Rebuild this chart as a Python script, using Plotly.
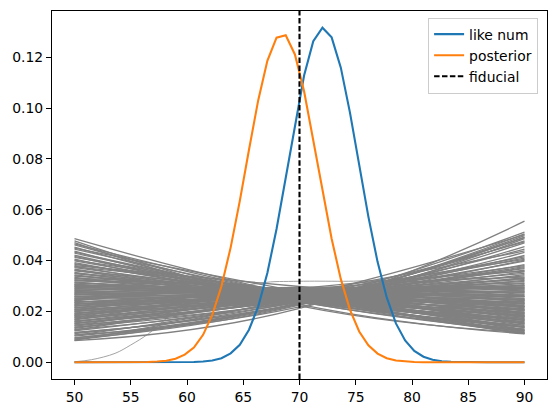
import plotly.graph_objects as go

# ---------------- data ----------------
theta = [50.000, 50.816, 51.633, 52.449, 53.265, 54.082, 54.898, 55.714, 56.531, 57.347,
         58.163, 58.980, 59.796, 60.612, 61.429, 62.245, 63.061, 63.878, 64.694, 65.510,
         66.327, 67.143, 67.959, 68.776, 69.592, 70.408, 71.224, 72.041, 72.857, 73.673,
         74.490, 75.306, 76.122, 76.939, 77.755, 78.571, 79.388, 80.204, 81.020, 81.837,
         82.653, 83.469, 84.286, 85.102, 85.918, 86.735, 87.551, 88.367, 89.184, 90.000]

like_num = [0, 0, 0, 0, 0, 0, 0, 0, 0, 0,
            0, 0, 0.0000, 0.0001, 0.0003, 0.0007, 0.0016, 0.0035, 0.0069, 0.0128,
            0.0219, 0.0351, 0.0524, 0.0727, 0.0938, 0.1128, 0.1263, 0.1316, 0.1278, 0.1159,
            0.0981, 0.0776, 0.0573, 0.0395, 0.0255, 0.0153, 0.0086, 0.0045, 0.0022, 0.0010,
            0.0004, 0.0002, 0.0001, 0, 0, 0, 0, 0, 0, 0]

posterior = [0, 0, 0, 0, 0, 0, 0, 0, 0.0001, 0.0003,
             0.0006, 0.0014, 0.0030, 0.0058, 0.0108, 0.0186, 0.0299, 0.0451, 0.0635, 0.0836,
             0.1030, 0.1186, 0.1277, 0.1286, 0.1211, 0.1066, 0.0877, 0.0675, 0.0486, 0.0327,
             0.0206, 0.0121, 0.0067, 0.0034, 0.0016, 0.0007, 0.0003, 0.0001, 0, 0,
             0, 0, 0, 0, 0, 0, 0, 0, 0, 0]

fiducial = 70

# individual gray curves, read at theta = 50, 70, 90
gray_x = [50, 70, 90]
gray_left = [0.0085, 0.0088, 0.0092, 0.0097, 0.0103, 0.0108, 0.0113, 0.0118, 0.0124, 0.0129,
             0.0133, 0.0138, 0.0142, 0.0147, 0.0151, 0.0155, 0.0159, 0.0163, 0.0167, 0.0171,
             0.0175, 0.0179, 0.0183, 0.0187, 0.0190, 0.0194, 0.0198, 0.0202, 0.0205, 0.0209,
             0.0213, 0.0216, 0.0220, 0.0224, 0.0227, 0.0231, 0.0235, 0.0238, 0.0242, 0.0246,
             0.0249, 0.0253, 0.0257, 0.0260, 0.0264, 0.0268, 0.0271, 0.0275, 0.0279, 0.0283,
             0.0287, 0.0291, 0.0295, 0.0299, 0.0303, 0.0307, 0.0311, 0.0316, 0.0320, 0.0325,
             0.0329, 0.0334, 0.0339, 0.0344, 0.0349, 0.0354, 0.0360, 0.0366, 0.0372, 0.0378,
             0.0385, 0.0392, 0.0399, 0.0406, 0.0413, 0.0421, 0.0429, 0.0437, 0.0445, 0.0453,
             0.0462, 0.0471, 0.0478, 0.0486, 0.0380,
             0.0087, 0.0095, 0.0106, 0.0116, 0.0127, 0.0136, 0.0145, 0.0153, 0.0161, 0.0169,
             0.0177, 0.0185, 0.0192, 0.0200, 0.0207, 0.0214, 0.0222, 0.0229, 0.0236, 0.0244,
             0.0251, 0.0258, 0.0266, 0.0273, 0.0281, 0.0289, 0.0297, 0.0305, 0.0313, 0.0322,
             0.0331, 0.0341, 0.0351, 0.0363, 0.0375, 0.0388, 0.0402, 0.0417, 0.0433, 0.0449,
             0.0466]
gray_mid = [0.0212, 0.0235, 0.0225, 0.0228, 0.0232, 0.0218, 0.0240, 0.0230, 0.0245, 0.0236,
            0.0258, 0.0240, 0.0250, 0.0238, 0.0262, 0.0245, 0.0255, 0.0244, 0.0268, 0.0250,
            0.0258, 0.0246, 0.0272, 0.0252, 0.0262, 0.0248, 0.0278, 0.0255, 0.0265, 0.0250,
            0.0282, 0.0258, 0.0268, 0.0252, 0.0286, 0.0260, 0.0270, 0.0254, 0.0290, 0.0262,
            0.0272, 0.0256, 0.0288, 0.0262, 0.0274, 0.0254, 0.0284, 0.0260, 0.0270, 0.0252,
            0.0280, 0.0258, 0.0266, 0.0250, 0.0276, 0.0256, 0.0264, 0.0248, 0.0274, 0.0254,
            0.0262, 0.0247, 0.0272, 0.0252, 0.0260, 0.0245, 0.0270, 0.0250, 0.0258, 0.0243,
            0.0268, 0.0248, 0.0256, 0.0240, 0.0265, 0.0245, 0.0255, 0.0238, 0.0262, 0.0240,
            0.0250, 0.0222, 0.0228, 0.0262, 0.0298,
            0.0258, 0.0232, 0.0252, 0.0231, 0.0270, 0.0253, 0.0270, 0.0247, 0.0264, 0.0290,
            0.0286, 0.0257, 0.0272, 0.0248, 0.0283, 0.0264, 0.0279, 0.0255, 0.0270, 0.0295,
            0.0290, 0.0260, 0.0275, 0.0250, 0.0284, 0.0264, 0.0278, 0.0253, 0.0267, 0.0285,
            0.0280, 0.0255, 0.0269, 0.0244, 0.0277, 0.0256, 0.0269, 0.0242, 0.0255, 0.0278,
            0.0261]
gray_right = [0.0555, 0.0512, 0.0505, 0.0498, 0.0492, 0.0486, 0.0478, 0.0470, 0.0445, 0.0432,
              0.0415, 0.0420, 0.0398, 0.0402, 0.0380, 0.0384, 0.0368, 0.0372, 0.0350, 0.0356,
              0.0340, 0.0345, 0.0325, 0.0330, 0.0318, 0.0322, 0.0300, 0.0310, 0.0296, 0.0302,
              0.0285, 0.0292, 0.0280, 0.0284, 0.0268, 0.0276, 0.0262, 0.0268, 0.0250, 0.0258,
              0.0246, 0.0252, 0.0236, 0.0244, 0.0232, 0.0238, 0.0222, 0.0231, 0.0219, 0.0225,
              0.0208, 0.0217, 0.0206, 0.0211, 0.0196, 0.0204, 0.0193, 0.0198, 0.0183, 0.0191,
              0.0180, 0.0186, 0.0171, 0.0179, 0.0168, 0.0173, 0.0158, 0.0165, 0.0154, 0.0160,
              0.0145, 0.0152, 0.0140, 0.0146, 0.0130, 0.0137, 0.0125, 0.0130, 0.0118, 0.0124,
              0.0115, 0.0117, 0.0112, 0.0113, 0.0220,
              0.0502, 0.0490, 0.0474, 0.0455, 0.0438, 0.0410, 0.0405, 0.0376, 0.0362, 0.0358,
              0.0335, 0.0332, 0.0312, 0.0305, 0.0290, 0.0295, 0.0274, 0.0278, 0.0258, 0.0260,
              0.0242, 0.0247, 0.0228, 0.0233, 0.0214, 0.0219, 0.0202, 0.0206, 0.0189, 0.0194,
              0.0176, 0.0182, 0.0164, 0.0168, 0.0150, 0.0155, 0.0136, 0.0140, 0.0121, 0.0126,
              0.0114]

# one gray curve that starts at zero on the left
edge_x = [50, 51.5, 53.6, 55.0, 56.6, 58.9, 60.5, 62.5, 64.9, 67.4, 69.0, 70.9, 74.8, 76.3, 80, 85, 90]
edge_y = [0.0002, 0.0010, 0.0035, 0.0068, 0.0113, 0.0198, 0.0234, 0.0272, 0.0299, 0.0316,
          0.0318, 0.0319, 0.0319, 0.0322, 0.0318, 0.0305, 0.0288]

# ---------------- figure ----------------
BLUE = "#1f77b4"
ORANGE = "#ff7f0e"
GRAY = "#808080"

fig = go.Figure()

gx, gy = [], []
for lv, mv, rv in zip(gray_left, gray_mid, gray_right):
    gx += gray_x + [None]
    gy += [lv, mv, rv, None]
fig.add_trace(go.Scatter(x=gx, y=gy, mode="lines",
                         line=dict(color=GRAY, width=1.3, shape="spline", smoothing=1.3),
                         showlegend=False, hoverinfo="skip"))
fig.add_trace(go.Scatter(x=edge_x, y=edge_y, mode="lines", line=dict(color=GRAY, width=0.9, shape="spline"),
                         opacity=0.8, showlegend=False, hoverinfo="skip"))

fig.add_trace(go.Scatter(x=theta, y=like_num, mode="lines", name="like num",
                         line=dict(color=BLUE, width=2.1)))
fig.add_trace(go.Scatter(x=theta, y=posterior, mode="lines", name="posterior",
                         line=dict(color=ORANGE, width=2.1)))

y_range = [-0.00658, 0.13818]
fig.add_trace(go.Scatter(x=[fiducial, fiducial], y=y_range, mode="lines", name="fiducial",
                         line=dict(color="black", width=2.1, dash="5.5px,2.4px")))

axis_common = dict(showline=True, mirror=True, linecolor="black", linewidth=1.1,
                   ticks="outside", ticklen=5, tickwidth=1.1, tickcolor="black",
                   showgrid=False, zeroline=False,
                   tickfont=dict(family="DejaVu Sans", size=13.9, color="black"))

fig.update_xaxes(range=[48, 92], tickvals=[50, 55, 60, 65, 70, 75, 80, 85, 90], **axis_common)
fig.update_yaxes(range=y_range, tickvals=[0, 0.02, 0.04, 0.06, 0.08, 0.10, 0.12],
                 tickformat=".2f", **axis_common)

fig.update_layout(
    width=556, height=413,
    margin=dict(l=52, r=9, t=11, b=34),
    paper_bgcolor="white", plot_bgcolor="white",
    font=dict(family="DejaVu Sans", size=13.9, color="black"),
    legend=dict(x=0.982, xanchor="right", y=0.982, yanchor="top",
                bgcolor="rgba(255,255,255,0.8)", bordercolor="#cccccc", borderwidth=1,
                font=dict(family="DejaVu Sans", size=13.9, color="black"),
                itemwidth=30, tracegroupgap=0),
)

fig.write_html("out.html")
